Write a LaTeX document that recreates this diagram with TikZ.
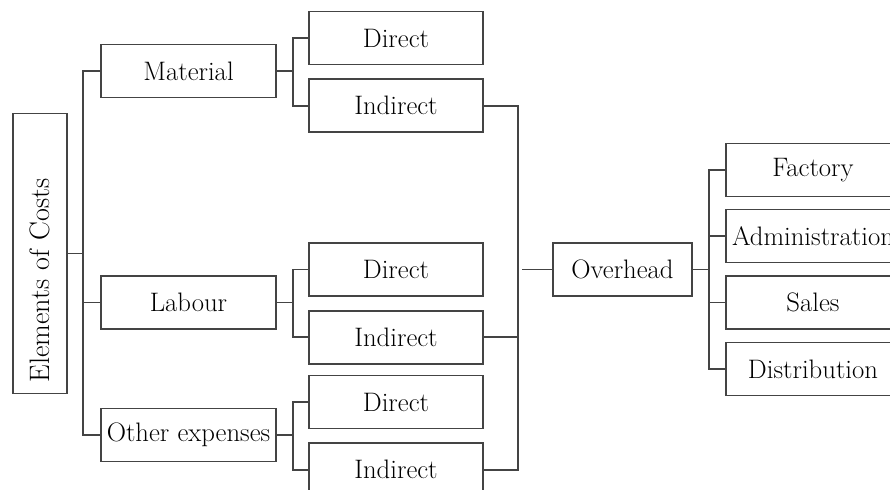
\documentclass[tikz,border=0pt]{standalone}
\usepackage{fontspec}
\usepackage{xcolor}
\usetikzlibrary{positioning}

\definecolor{linegray}{HTML}{444444}

\begin{document}
\begin{tikzpicture}[
            x=0.025cm, y=-0.025cm,
            box/.style={
                    draw=linegray,
                    line width=1.1pt,
                    minimum width=4.35cm,
                    minimum height=1.325cm,
                    inner sep=1pt,
                    align=center,
                    font=\fontsize{19}{22}\selectfont
                },
            link/.style={
                    draw=linegray,
                    line width=1.1pt
                }
        ]

        \clip (0,0) rectangle (890,490);

        \node[box,rotate=90,minimum width=7cm,minimum height=1.35cm,
            text width=6.45cm,inner xsep=0.275cm,align=left,
            font=\fontsize{20}{24}\selectfont]
        (costs) at (40,253.5)
        {Elements of Costs};


        \node[box,minimum width=4.375cm] (material) at (188.5,71) {Material};
        \node[box,minimum width=4.375cm] (labour) at (188.5,302.5) {Labour};
        \node[box,minimum width=4.375cm] (other) at (188.5,435) {Other expenses};


        \node[box] (mdir) at (396,38) {Direct};
        \node[box,below=0.33cm of mdir] (mind) {Indirect};

        \node[box] (ldir) at (396,269.5) {Direct};
        \node[box,below=0.33cm of ldir] (lind) {Indirect};

        \node[box] (odir) at (396,402) {Direct};
        \node[box,below=0.33cm of odir] (oind) {Indirect};


        \node[box,minimum width=3.475cm] (overhead) at (622.5,269.5) {Overhead};


        \node[box] (factory) at (813,170) {Factory};
        \node[box] (admin) at (813,236) {Administration};
        \node[box] (sales) at (813,302.5) {Sales};
        \node[box] (distr) at (813,369) {Distribution};


        \coordinate (trunk) at (83,253.5);
        \coordinate (mjoin) at (293,71);
        \coordinate (ljoin) at (293,302.5);
        \coordinate (ojoin) at (293,435);
        \coordinate (obus) at (518,269.5);
        \coordinate (ohin) at (522,269.5);
        \coordinate (rbus) at (709,269.5);


        % rotated box: its south anchor is on the right
        \draw[link] (costs.south) -- (trunk);
        \draw[link] (material.west) -| (trunk) |- (other.west);
        \draw[link] (labour.west) -- (labour.west -| trunk);

        \draw[link] (material.east) -- (mjoin);
        \draw[link] (mdir.west) -| (mjoin) |- (mind.west);
        \draw[link] (labour.east) -- (ljoin);
        \draw[link] (ldir.west) -| (ljoin) |- (lind.west);
        \draw[link] (other.east) -- (ojoin);
        \draw[link] (odir.west) -| (ojoin) |- (oind.west);

        \draw[link] (mind.east) -| (obus) |- (oind.east);
        \draw[link] (lind.east) -- (lind.east -| obus);
        \draw[link] (ohin) -- (overhead.west);

        \draw[link] (overhead.east) -- (rbus);
        \draw[link] (factory.west) -| (rbus) |- (distr.west);
        \draw[link] (admin.west) -- (admin.west -| rbus);
        \draw[link] (sales.west) -- (sales.west -| rbus);

    \end{tikzpicture}
\end{document}
